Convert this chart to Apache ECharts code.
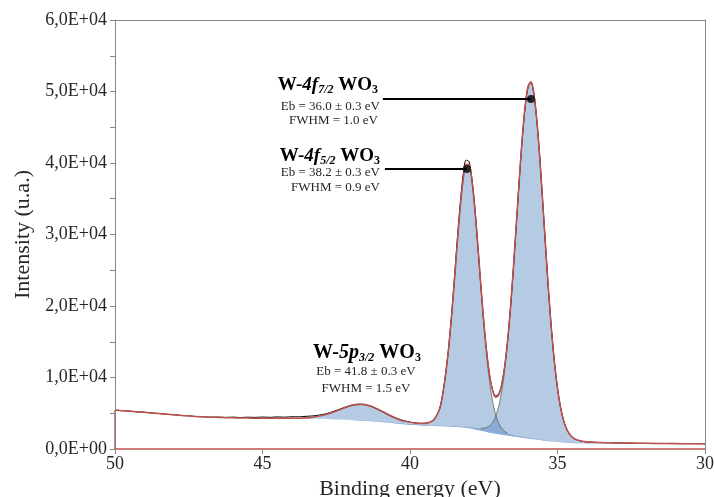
<!DOCTYPE html>
<html>
<head>
<meta charset="utf-8">
<script src="https://cdn.jsdelivr.net/npm/echarts@6/dist/echarts.min.js"></script>
<style>
html,body{margin:0;padding:0;background:#fff;}
#chart{width:714px;height:497px;}
</style>
</head>
<body>
<div id="chart"></div>
<script>
// Binding energy grid (eV)
const energy = [50,49.75,49.5,49.25,49,48.75,48.5,48.25,48,47.75,47.5,47.25,47,46.75,46.5,46.25,46,45.75,45.5,45.25,45,44.75,44.5,44.25,44,43.75,43.5,43.25,43,
42.8,42.6,42.4,42.2,42,41.8,41.6,41.4,41.2,41,40.8,40.6,40.4,40.2,40,39.8,39.6,39.4,39.2,
39,38.9,38.8,38.7,38.6,38.5,38.4,38.3,38.2,38.1,38,37.9,37.8,37.7,37.6,37.5,37.4,37.3,37.2,37.1,37,36.9,36.8,36.7,36.6,36.5,36.4,36.3,36.2,36.1,36,35.9,35.8,35.7,35.6,35.5,35.4,35.3,35.2,35.1,35,34.9,34.8,34.7,34.6,34.5,34.4,
34.2,34,33.75,33.5,33.25,33,32.5,32,31.5,31,30.5,30];

// Shirley-type background
const background = [5450,5360,5300,5190,5140,5030,4960,4860,4790,4690,4640,4540,4500,4430,4410,4360,4340,4310,4300,4290,4290,4280,4280,4270,4260,4250,4240,4230,4220,
4190,4160,4120,4080,4040,4000,3960,3910,3850,3780,3700,3620,3540,3460,3390,3340,3300,3260,3220,
3190,3170,3150,3130,3110,3090,3060,3030,2990,2950,2890,2820,2740,2650,2560,2470,2380,2290,2210,2140,2070,2000,1940,1880,1820,1760,1700,1640,1580,1520,1460,1400,1350,1300,1250,1200,1150,1100,1050,1010,970,930,900,870,850,830,815,
795,780,770,760,755,750,740,730,720,715,705,700];

// Fitted components (intensity above background)
const peak4f72 = [0,0,0,0,0,0,0,0,0,0,0,0,0,0,0,0,0,0,0,0,0,0,0,11,12,12,13,14,15,
16,17,18,19,20,22,23,25,27,29,31,34,37,41,45,49,54,61,68,
77,82,88,94,100,108,117,126,137,150,165,180,215,250,315,425,620,950,1500,2390,3790,5850,8740,12590,17420,23120,29380,35740,41590,46270,49160,49880,48250,44580,39360,33220,26830,20750,15370,10930,7470,4930,3160,1990,1250,790,530,
290,200,150,122,101,86,63,48,38,31,26,21];

const peak4f52 = [0,0,0,0,0,0,0,0,0,0,0,0,0,0,0,0,0,0,0,0,0,0,0,13,14,15,16,17,18,
20,21,23,25,27,30,33,37,42,48,55,63,74,85,92,115,165,300,750,
2300,4200,7010,10510,14950,20100,25520,30580,34530,36720,36720,34530,30580,25520,20100,14950,10510,7010,4440,2700,1600,930,556,355,245,189,155,130,117,106,96,88,80,74,68,63,59,55,51,48,45,42,40,38,36,34,32,
30,27,25,22,20,18,15,13,11,10,9,8];

const peak5p32 = [0,0,0,0,0,0,0,0,0,0,0,0,0,0,0,0,0,0,0,0,0,0,2,5,14,39,96,210,415,
660,970,1320,1680,1985,2180,2230,2120,1875,1540,1175,840,555,345,195,105,52,23,10,
4,2,0,0,0,0,0,0,0,0,0,0,0,0,0,0,0,0,0,0,0,0,0,0,0,0,0,0,0,0,0,0,0,0,0,0,0,0,0,0,0,0,0,0,0,0,0,
0,0,0,0,0,0,0,0,0,0,0,0];

// Fit envelope (red)
const envelope = [5450,5360,5300,5190,5140,5030,4960,4860,4790,4690,4640,4540,4500,4430,4420,4370,4360,4320,4320,4300,4300,4290,4290,4299,4300,4316,4365,4471,4668,
4886,5168,5481,5804,6072,6232,6246,6092,5794,5397,4961,4557,4206,3931,3722,3609,3571,3644,4048,
5571,7454,10248,13734,18160,23298,28697,33736,37657,39820,39775,37530,33535,28420,22975,17845,13510,10250,8150,7230,7460,8780,11236,14825,19485,25069,31235,37510,43287,47896,50716,51368,49680,45954,40678,34483,28039,21905,16471,11988,8485,5902,4100,2898,2136,1654,1377,
1115,1007,945,904,876,854,818,791,769,756,740,729];

// Measured spectrum (black)
const measured = [5450,5360,5300,5190,5140,5030,4960,4860,4790,4690,4640,4540,4500,4450,4470,4420,4460,4400,4450,4420,4470,4430,4490,4450,4510,4500,4580,4640,4800,
4980,5250,5540,5850,6100,6260,6250,6070,5760,5360,4930,4540,4220,3960,3760,3640,3590,3650,4050,
5600,7500,10300,13800,18300,23600,29100,34200,38300,40400,40200,37800,33700,28500,23000,17900,13600,10300,8300,7450,7650,8900,11300,14800,19400,25000,31100,37300,43100,47700,50600,51300,49700,45900,40700,34500,28100,21900,16500,12000,8500,5900,4080,2880,2120,1640,1370,
1100,990,950,890,880,840,830,780,780,740,750,720];

// Axis ticks
const xTicks = [50,45,40,35,30];
const yTicks = [0,10000,20000,30000,40000,50000,60000];

// Peak markers and leader lines
const markerEnergy = [35.9, 38.07];
const markerIntensity = [48950, 39160];
const leaderStartEnergy = [40.92, 40.85];

const serif = '"Liberation Serif","Times New Roman",serif';
const FILL = 'rgba(79,129,189,0.42)';
const RED = '#C0504D';
const GRAY = '#868686';

function pairs(ys) { return energy.map((e, i) => [e, ys[i]]); }
function outline(p) {
  return energy.map((e, i) => [e, p[i] > 300 ? background[i] + p[i] : '-']);
}
function fillItem(p) {
  return function (params, api) {
    const idx = energy.map((e, i) => i).filter(i => p[i] > 0);
    const top = idx.map(i => api.coord([energy[i], background[i] + p[i]]));
    const bottom = idx.map(i => api.coord([energy[i], background[i]])).reverse();
    return { type: 'polygon', shape: { points: top.concat(bottom) }, style: { fill: FILL }, silent: true };
  };
}

const comps = [peak4f72, peak4f52, peak5p32];
const series = [];
comps.forEach((p) => {
  series.push({ type: 'custom', renderItem: fillItem(p), data: [[40, 0]], silent: true, z: 1 });
  series.push({
    type: 'line', data: outline(p), symbol: 'none', smooth: 0.3, connectNulls: false,
    lineStyle: { color: '#555', width: 0.7 }, silent: true, z: 2
  });
});
series.push({
  type: 'line', data: pairs(measured), symbol: 'none', smooth: 0.3,
  lineStyle: { color: '#000', width: 1 }, silent: true, z: 3
});
series.push({
  type: 'line', data: pairs(envelope), symbol: 'none', smooth: 0.3,
  lineStyle: { color: RED, width: 1.5 }, silent: true, z: 4
});
// red closing edge at the left border
series.push({
  type: 'line', data: [[energy[0], 0], [energy[0], envelope[0]]], symbol: 'none',
  lineStyle: { color: RED, width: 1.5 }, silent: true, z: 4
});
markerEnergy.forEach((e, i) => {
  series.push({
    type: 'line', data: [[leaderStartEnergy[i], markerIntensity[i]], [e, markerIntensity[i]]], symbol: 'none',
    lineStyle: { color: '#000', width: 1.8 }, silent: true, z: 5
  });
});
series.push({
  type: 'scatter', data: markerEnergy.map((e, i) => [e, markerIntensity[i]]),
  symbolSize: 8, itemStyle: { color: '#000' }, silent: true, z: 6
});

function fmtY(v) {
  if (v === 0) return '0,0E+00';
  return (v / 10000).toFixed(1).replace('.', ',') + 'E+04';
}

const titleRich = {
  b: { fontFamily: serif, fontWeight: 'bold', fontSize: 19, lineHeight: 22, color: '#000' },
  bi: { fontFamily: serif, fontWeight: 'bold', fontStyle: 'italic', fontSize: 19, lineHeight: 22, color: '#000' },
  s: { fontFamily: serif, fontWeight: 'bold', fontStyle: 'italic', fontSize: 12, lineHeight: 10, verticalAlign: 'bottom', color: '#000' },
  s2: { fontFamily: serif, fontWeight: 'bold', fontSize: 12, lineHeight: 10, verticalAlign: 'bottom', color: '#000' }
};
function title(x, y, align, orb, sub, size) {
  const rich = JSON.parse(JSON.stringify(titleRich));
  if (size) { rich.b.fontSize = size; rich.bi.fontSize = size; }
  return { type: 'text', x: x, y: y, z: 20, silent: true,
    style: { text: '{b|W-}{bi|' + orb + '}{s|' + sub + '}{b| WO}{s2|3}', rich: rich,
      align: align, verticalAlign: 'middle', fill: '#000' } };
}
function small(x, y, align, txt) {
  return { type: 'text', x: x, y: y, z: 20, silent: true,
    style: { text: txt, fontFamily: serif, fontSize: 13, fill: '#262626', align: align, verticalAlign: 'middle' } };
}

const axisBase = {
  axisLabel: { show: false }, axisTick: { show: false }, splitLine: { show: false }
};

const chart = echarts.init(document.getElementById('chart'), null, { renderer: 'canvas' });
chart.setOption({
  animation: false,
  backgroundColor: '#fff',
  grid: { left: 115, right: 9, top: 20, bottom: 48, show: false, containLabel: false, outerBoundsMode: 'none' },
  xAxis: [{
    type: 'value', inverse: true, min: xTicks[xTicks.length - 1], max: xTicks[0], interval: xTicks[0] - xTicks[1],
    name: 'Binding energy (eV)', nameLocation: 'middle', nameGap: 28,
    nameTextStyle: { fontFamily: serif, fontSize: 22, color: '#262626' },
    axisLine: { show: true, onZero: false, lineStyle: { color: RED, width: 1.5 } },
    axisTick: { show: true, inside: false, length: 5, lineStyle: { color: GRAY } },
    axisLabel: { fontFamily: serif, fontSize: 18, color: '#262626', margin: 6 },
    splitLine: { show: false }, z: 10
  }, Object.assign({
    type: 'value', position: 'top', inverse: true, min: xTicks[xTicks.length - 1], max: xTicks[0],
    axisLine: { show: true, onZero: false, lineStyle: { color: GRAY } }
  }, axisBase)],
  yAxis: [{
    type: 'value', min: yTicks[0], max: yTicks[yTicks.length - 1], interval: yTicks[1] - yTicks[0],
    name: 'Intensity (u.a.)', nameLocation: 'middle', nameGap: 81,
    nameTextStyle: { fontFamily: serif, fontSize: 22, color: '#262626' },
    axisLine: { show: true, onZero: false, lineStyle: { color: GRAY } },
    axisTick: { show: true, inside: false, length: 5, lineStyle: { color: GRAY } },
    minorTick: { show: true, splitNumber: 2, length: 5, lineStyle: { color: GRAY } },
    axisLabel: { fontFamily: serif, fontSize: 18, color: '#262626', margin: 8, formatter: fmtY },
    splitLine: { show: false }, z: 10
  }, Object.assign({
    type: 'value', position: 'right', min: yTicks[0], max: yTicks[yTicks.length - 1],
    axisLine: { show: true, onZero: false, lineStyle: { color: GRAY } }
  }, axisBase)],
  series: series,
  graphic: [
    title(378, 85, 'right', '4f', '7/2'),
    small(380, 107, 'right', 'Eb = 36.0 \u00b1 0.3 eV'),
    small(378, 121, 'right', 'FWHM = 1.0 eV'),
    title(380, 156, 'right', '4f', '5/2'),
    small(380, 173, 'right', 'Eb = 38.2 \u00b1 0.3 eV'),
    small(380, 188, 'right', 'FWHM = 0.9 eV'),
    title(367, 353, 'center', '5p', '3/2', 20),
    small(366, 372, 'center', 'Eb = 41.8 \u00b1 0.3 eV'),
    small(366, 389, 'center', 'FWHM = 1.5 eV')
  ]
});
</script>
</body>
</html>
